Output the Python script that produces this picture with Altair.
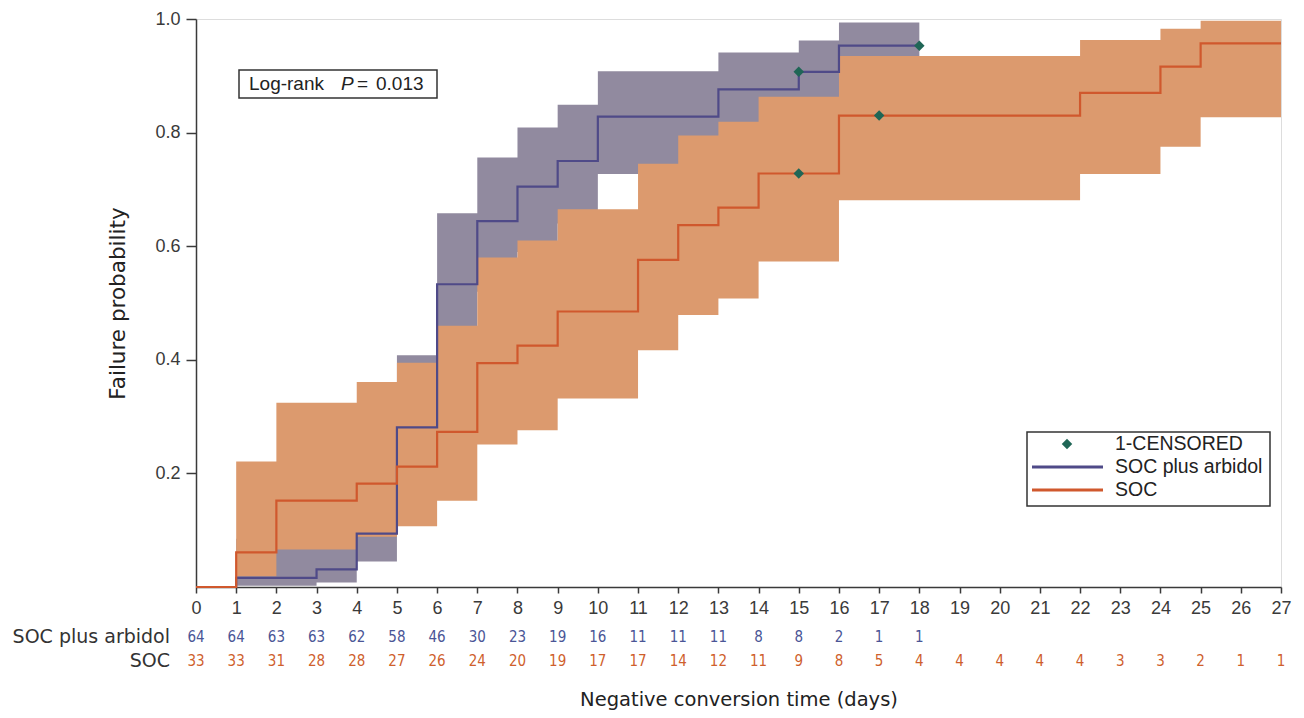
import altair as alt
import pandas as pd

# ---- data ----
arb_t = [0, 1, 3, 4, 5, 6, 7, 8, 9, 10, 13, 15, 16, 18]
arb_p = [0, 0.016, 0.031, 0.094, 0.281, 0.533, 0.644, 0.705, 0.750, 0.828, 0.876, 0.907, 0.953, 0.953]

arb_band_t = [1, 2, 3, 4, 5, 6, 7, 8, 9, 10, 11, 12, 13, 14, 15, 16, 18]
arb_band_lo = [0.002, 0.002, 0.008, 0.045, 0.19, 0.41, 0.52, 0.59, 0.64, 0.727, 0.73, 0.73, 0.78, 0.78, 0.80, 0.85, 0.85]
arb_band_hi = [0.085, 0.085, 0.11, 0.20, 0.408, 0.658, 0.756, 0.809, 0.849, 0.908, 0.908, 0.908, 0.941, 0.941, 0.962, 0.994, 0.994]

soc_t = [0, 1, 2, 4, 5, 6, 7, 8, 9, 11, 12, 13, 14, 16, 22, 24, 25, 27]
soc_p = [0, 0.061, 0.152, 0.182, 0.212, 0.273, 0.394, 0.425, 0.485, 0.576, 0.637, 0.668, 0.728, 0.830, 0.870, 0.916, 0.957, 0.957]

soc_band_t = [1, 2, 4, 5, 6, 7, 8, 9, 10, 11, 12, 13, 14, 16, 22, 24, 25, 27]
soc_band_lo = [0.019, 0.066, 0.0886, 0.107, 0.152, 0.251, 0.276, 0.332, 0.332, 0.417, 0.479, 0.508, 0.573, 0.681, 0.727, 0.775, 0.827, 0.827]
soc_band_hi = [0.221, 0.3245, 0.361, 0.395, 0.46, 0.58, 0.61, 0.665, 0.665, 0.745, 0.795, 0.819, 0.863, 0.935, 0.963, 0.983, 0.997, 0.997]

cens_t = [15, 18, 15, 17]
cens_p = [0.907, 0.953, 0.728, 0.830]

risk_days_arb = list(range(0, 19))
arb_risk = [64, 64, 63, 63, 62, 58, 46, 30, 23, 19, 16, 11, 11, 11, 8, 8, 2, 1, 1]
risk_days_soc = list(range(0, 28))
soc_risk = [33, 33, 31, 28, 28, 27, 26, 24, 20, 19, 17, 17, 14, 12, 11, 9, 8, 5, 4, 4, 4, 4, 4, 3, 3, 2, 1, 1]

x_ticks = list(range(0, 28))
y_ticks = [0.2, 0.4, 0.6, 0.8, 1.0]

# ---- colours ----
PURPLE_BAND = "#918a9f"
PURPLE_LINE = "#4f4a88"
ORANGE_BAND = "#dc9a6e"
ORANGE_LINE = "#d0582d"
DIAMOND = "#1f6656"
PURPLE_TXT = "#4a5596"
ORANGE_TXT = "#cf5f2d"
AXIS_COL = "#3a3a3a"
FONT = "Liberation Sans"
TFONT = "DejaVu Sans"
NFONT = "Liberation Sans Narrow, DejaVu Sans Condensed, Liberation Sans, sans-serif"

xs = alt.Scale(domain=[0, 27], nice=False, zero=False)
ys = alt.Scale(domain=[0, 1], nice=False)

xaxis = alt.Axis(values=x_ticks, title="Negative conversion time (days)", grid=False,
                 labelFontSize=18, labelFont=FONT, labelColor=AXIS_COL, labelPadding=6,
                 tickSize=6, tickColor=AXIS_COL, domainColor=AXIS_COL, domainWidth=1.5, tickWidth=1.5,
                 titleFont=TFONT, titleFontSize=19.5, titleFontWeight="normal", titleColor="#222",
                 titleY=112, titleBaseline="middle", labelFlush=False)
yaxis = alt.Axis(values=y_ticks, format=".1f", title="Failure probability", grid=False,
                 labelFontSize=18, labelFont=FONT, labelColor=AXIS_COL, labelPadding=6,
                 tickSize=10, tickColor=AXIS_COL, domainColor=AXIS_COL, domainWidth=1.5, tickWidth=1.5,
                 titleFont=TFONT, titleFontSize=21.5, titleFontWeight="normal", titleColor="#222",
                 titleX=-78, titleBaseline="middle")

df_arb = pd.DataFrame({"t": arb_t, "p": arb_p})
df_soc = pd.DataFrame({"t": soc_t, "p": soc_p})
df_arb_band = pd.DataFrame({"t": arb_band_t, "lo": arb_band_lo, "hi": arb_band_hi})
df_soc_band = pd.DataFrame({"t": soc_band_t, "lo": soc_band_lo, "hi": soc_band_hi})
df_cens = pd.DataFrame({"t": cens_t, "p": cens_p})
df_risk_arb = pd.DataFrame({"t": risk_days_arb, "n": arb_risk})
df_risk_soc = pd.DataFrame({"t": risk_days_soc, "n": soc_risk})

band_arb = alt.Chart(df_arb_band).mark_area(interpolate="step-after", color=PURPLE_BAND, opacity=1).encode(
    x=alt.X("t:Q", scale=xs, axis=xaxis),
    y=alt.Y("lo:Q", scale=ys, axis=yaxis),
    y2="hi:Q")
band_soc = alt.Chart(df_soc_band).mark_area(interpolate="step-after", color=ORANGE_BAND, opacity=1).encode(
    x=alt.X("t:Q", scale=xs), y=alt.Y("lo:Q", scale=ys), y2="hi:Q")
line_arb = alt.Chart(df_arb).mark_line(interpolate="step-after", color=PURPLE_LINE, strokeWidth=2.2).encode(
    x=alt.X("t:Q", scale=xs), y=alt.Y("p:Q", scale=ys))
line_soc = alt.Chart(df_soc).mark_line(interpolate="step-after", color=ORANGE_LINE, strokeWidth=2.2).encode(
    x=alt.X("t:Q", scale=xs), y=alt.Y("p:Q", scale=ys))
cens = alt.Chart(df_cens).mark_point(shape="diamond", filled=True, color=DIAMOND, size=110, opacity=1).encode(
    x=alt.X("t:Q", scale=xs), y=alt.Y("p:Q", scale=ys))

risk_arb = alt.Chart(df_risk_arb).mark_text(fontSize=15, font=NFONT, color=PURPLE_TXT,
                                            baseline="middle").encode(
    x=alt.X("t:Q", scale=xs), y=alt.value(618), text="n:Q")
risk_soc = alt.Chart(df_risk_soc).mark_text(fontSize=15, font=NFONT, color=ORANGE_TXT,
                                            baseline="middle").encode(
    x=alt.X("t:Q", scale=xs), y=alt.value(642), text="n:Q")

base = alt.Chart(pd.DataFrame({"a": [0]}))
row_lbl1 = base.mark_text(text="SOC plus arbidol", align="right", baseline="middle", fontSize=19,
                          font=TFONT, color="#333").encode(x=alt.value(-26), y=alt.value(618))
row_lbl2 = base.mark_text(text="SOC", align="right", baseline="middle", fontSize=19,
                          font=TFONT, color="#333").encode(x=alt.value(-26), y=alt.value(642))

# log-rank box
lr_box = base.mark_rect(fill="white", stroke="#333", strokeWidth=1.5).encode(
    x=alt.value(43), x2=alt.value(241), y=alt.value(51), y2=alt.value(79))
lr_t1 = base.mark_text(text="Log-rank", align="left", baseline="middle", fontSize=19, font=FONT,
                       color="#222").encode(x=alt.value(53), y=alt.value(65))
lr_t2 = base.mark_text(text="P", align="left", baseline="middle", fontSize=19, font=FONT, fontStyle="italic",
                       color="#222").encode(x=alt.value(145), y=alt.value(65))
lr_t3 = base.mark_text(text="=", align="left", baseline="middle", fontSize=19, font=FONT,
                       color="#222").encode(x=alt.value(161), y=alt.value(65))
lr_t4 = base.mark_text(text="0.013", align="left", baseline="middle", fontSize=19, font=FONT,
                       color="#222").encode(x=alt.value(180), y=alt.value(65))

# legend
lg_box = base.mark_rect(fill="white", stroke="#333", strokeWidth=1.5).encode(
    x=alt.value(831), x2=alt.value(1074), y=alt.value(413), y2=alt.value(487))
lg_pt = base.mark_point(shape="diamond", filled=True, color=DIAMOND, size=110, opacity=1).encode(
    x=alt.value(871), y=alt.value(425))
lg_l1 = base.mark_rule(color=PURPLE_LINE, strokeWidth=3).encode(
    x=alt.value(836), x2=alt.value(907), y=alt.value(448))
lg_l2 = base.mark_rule(color=ORANGE_LINE, strokeWidth=3).encode(
    x=alt.value(836), x2=alt.value(907), y=alt.value(471))
lg_t1 = base.mark_text(text="1-CENSORED", align="left", baseline="middle", fontSize=19.5, font=FONT,
                       color="#222").encode(x=alt.value(919), y=alt.value(425))
lg_t2 = base.mark_text(text="SOC plus arbidol", align="left", baseline="middle", fontSize=19.5, font=FONT,
                       color="#222").encode(x=alt.value(919), y=alt.value(448))
lg_t3 = base.mark_text(text="SOC", align="left", baseline="middle", fontSize=19.5, font=FONT,
                       color="#222").encode(x=alt.value(919), y=alt.value(471))

chart = alt.layer(
    band_arb, band_soc, line_arb, line_soc, cens,
    risk_arb, risk_soc, row_lbl1, row_lbl2,
    lr_box, lr_t1, lr_t2, lr_t3, lr_t4,
    lg_box, lg_pt, lg_l1, lg_l2, lg_t1, lg_t2, lg_t3,
).properties(
    width=1085, height=568,
    autosize=alt.AutoSizeParams(type="none"),
    padding={"left": 188, "top": 11, "right": 15, "bottom": 123},
).configure_view(stroke=None).configure(background="white")

chart.save("out.html", embed_options={"renderer": "svg", "actions": False})
